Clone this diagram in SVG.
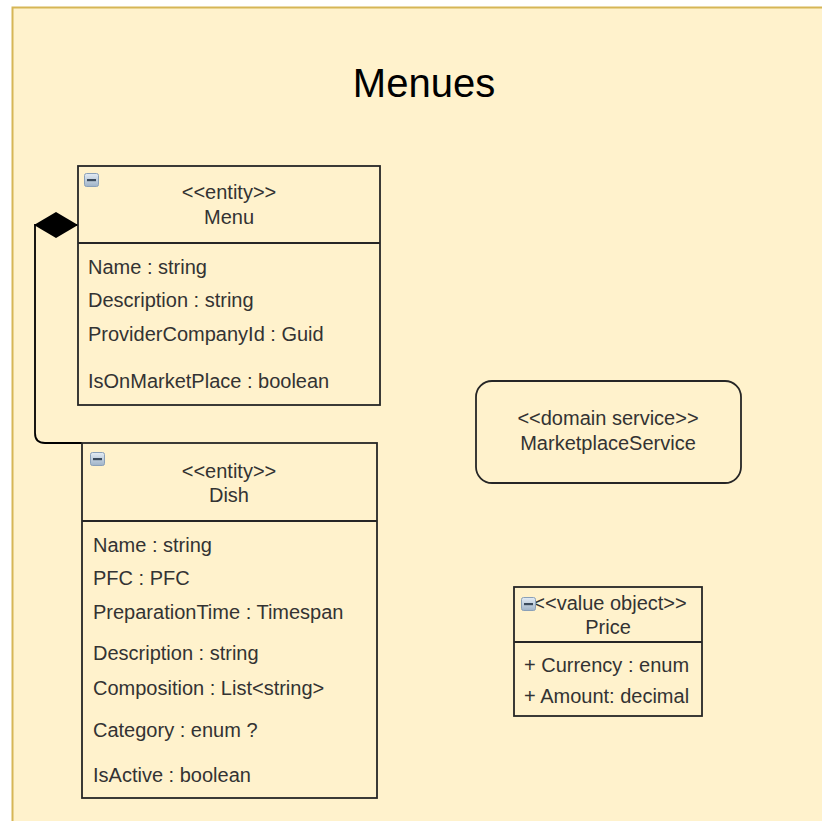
<svg xmlns="http://www.w3.org/2000/svg" xmlns:xlink="http://www.w3.org/1999/xlink" width="822" height="821" viewBox="0 0 822 821">
  <style>
    text { font-family: "Liberation Sans", Arial, sans-serif; fill: #333333; }
    .title { font-size: 40px; fill: #000000; text-anchor: middle; }
    .lbl { font-size: 20px; text-anchor: middle; }
    .attr { font-size: 20px; }
    .box { fill: none; stroke: #262626; stroke-width: 1.8; }
    .edge { fill: none; stroke: #000000; stroke-width: 1.8; }
  </style>
  <defs>
    <linearGradient id="iconFill" x1="0" y1="0" x2="0" y2="1">
      <stop offset="0" stop-color="#e4ecf4"/>
      <stop offset="1" stop-color="#9fb3c8"/>
    </linearGradient>
    <!-- collapse toggle shown in class headers -->
    <g id="collapse">
      <rect x="0.5" y="0.5" width="14" height="13" rx="2" fill="url(#iconFill)" stroke="#8aa0b8" stroke-width="1"/>
      <rect x="3" y="6" width="9" height="2.2" fill="#3a4a5c"/>
    </g>
    <!-- filled diamond for composition ends -->
    <marker id="diamond" markerUnits="userSpaceOnUse" markerWidth="46" markerHeight="28" viewBox="0 0 46 28" refX="1" refY="14" orient="auto">
      <path d="M1,14 L23,1 L45,14 L23,27 Z" fill="#000000"/>
    </marker>
  </defs>

  <!-- container panel -->
  <rect x="12.5" y="7.5" width="830" height="830" fill="#fff2cc" stroke="#d6b656" stroke-width="2"/>
  <text class="title" x="424" y="97">Menues</text>

  <!-- connectors -->
  <g id="connectors">
    <path class="edge" d="M78,225 H35 V433 Q35,443 45,443 H82" marker-start="url(#diamond)"/>
  </g>

  <!-- Menu entity -->
  <g id="menu">
    <rect class="box" x="78" y="166" width="302" height="239"/>
    <line class="box" x1="78" y1="243" x2="380" y2="243"/>
    <use xlink:href="#collapse" x="84" y="173"/>
    <text class="lbl" x="229" y="199">&lt;&lt;entity&gt;&gt;</text>
    <text class="lbl" x="229" y="224">Menu</text>
    <text class="attr" x="88" y="274">Name : string</text>
    <text class="attr" x="88" y="307">Description : string</text>
    <text class="attr" x="88" y="341">ProviderCompanyId : Guid</text>
    <text class="attr" x="88" y="388">IsOnMarketPlace : boolean</text>
  </g>

  <!-- Dish entity -->
  <g id="dish">
    <rect class="box" x="82" y="443" width="295" height="355"/>
    <line class="box" x1="82" y1="521" x2="377" y2="521"/>
    <use xlink:href="#collapse" x="90" y="452"/>
    <text class="lbl" x="229" y="478">&lt;&lt;entity&gt;&gt;</text>
    <text class="lbl" x="229" y="502">Dish</text>
    <text class="attr" x="93" y="552">Name : string</text>
    <text class="attr" x="93" y="585">PFC : PFC</text>
    <text class="attr" x="93" y="619">PreparationTime : Timespan</text>
    <text class="attr" x="93" y="660">Description : string</text>
    <text class="attr" x="93" y="695">Composition : List&lt;string&gt;</text>
    <text class="attr" x="93" y="737">Category : enum ?</text>
    <text class="attr" x="93" y="782">IsActive : boolean</text>
  </g>

  <!-- MarketplaceService domain service -->
  <g id="marketplace-service">
    <rect class="box" x="476" y="381" width="265" height="102" rx="16" ry="16"/>
    <text class="lbl" x="608" y="425">&lt;&lt;domain service&gt;&gt;</text>
    <text class="lbl" x="608" y="450">MarketplaceService</text>
  </g>

  <!-- Price value object -->
  <g id="price">
    <rect class="box" x="514" y="587" width="188" height="129"/>
    <line class="box" x1="514" y1="642" x2="702" y2="642"/>
    <text class="lbl" x="610" y="610">&lt;&lt;value object&gt;&gt;</text>
    <use xlink:href="#collapse" x="521" y="597"/>
    <text class="lbl" x="608" y="634">Price</text>
    <text class="attr" x="524" y="672">+ Currency : enum</text>
    <text class="attr" x="524" y="703">+ Amount: decimal</text>
  </g>
</svg>
